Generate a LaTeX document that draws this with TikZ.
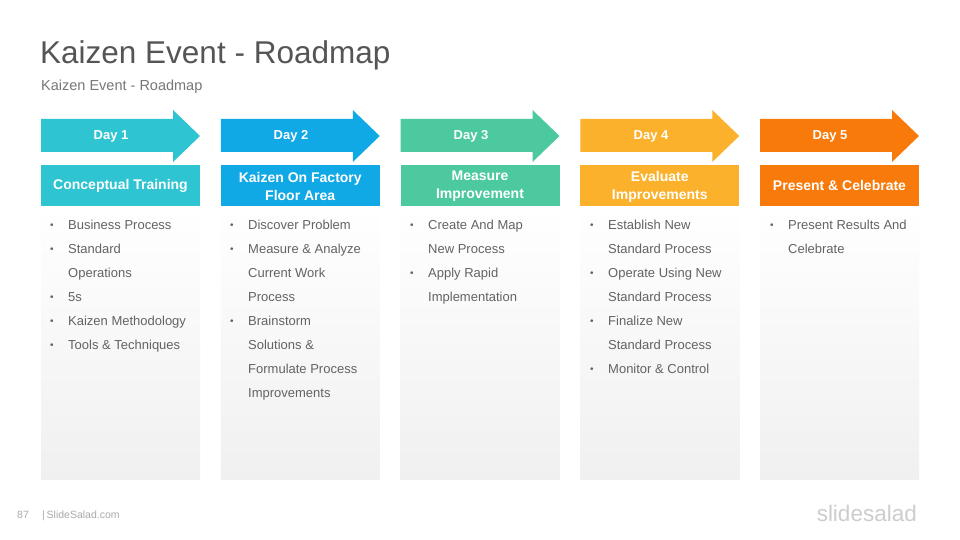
\documentclass[tikz,border=0pt]{standalone}
\usepackage{fontspec}
\setmainfont{Liberation Sans}
\definecolor{cA}{HTML}{2EC4D2}
\definecolor{cB}{HTML}{11A8E6}
\definecolor{cC}{HTML}{4DC9A0}
\definecolor{cD}{HTML}{FBB12B}
\definecolor{cE}{HTML}{F87A0B}
\definecolor{titlegray}{HTML}{555555}
\definecolor{subgray}{HTML}{777777}
\definecolor{bodygray}{HTML}{636363}
\definecolor{boxgray}{HTML}{F0F0F0}
\definecolor{footgray}{HTML}{AAAAAA}
\definecolor{logogray}{HTML}{CDCDCD}
\newcommand\bul{\makebox[18pt][l]{\raisebox{0.5pt}{\fontsize{10}{10}\selectfont\textbullet}}}
\newcommand\cnt{\hspace*{18pt}}
\tikzset{
  daytext/.style={text=white, font=\bfseries\fontsize{13}{15}\selectfont, inner sep=0},
  labelbox/.style={minimum width=159pt, minimum height=41pt, inner sep=0, text=white,
    align=center, font=\bfseries\fontsize{14}{18}\selectfont},
  twoline/.style={text depth=4pt},
  contentbox/.style={minimum width=159pt, minimum height=273pt, inner sep=0, anchor=north west,
    top color=white, bottom color=boxgray, draw=none},
  listtext/.style={anchor=north west, inner sep=0, align=left, text=bodygray,
    font=\fontsize{13}{24}\selectfont},
}
\newcommand\dayarrow[2]{%
  \fill[#2] (#1,119) -- ++(132,0) -- ++(0,-9) -- ++(27,26) -- ++(-27,26) -- ++(0,-10) -- ++(-132,0) -- cycle;}
\begin{document}
\begin{tikzpicture}[x=1pt,y=-1pt]
\useasboundingbox (0,0) rectangle (960,540);
\fill[white] (0,0) rectangle (960,540);

\node[anchor=base west, inner sep=0, text=titlegray, font=\fontsize{31.5}{36}\selectfont] (title) at (40,63.5) {Kaizen Event - Roadmap};
\node[anchor=base west, inner sep=0, text=subgray, font=\fontsize{14.5}{16}\selectfont] (subtitle) at (41,91) {Kaizen Event - Roadmap};

% Column 1
\dayarrow{41}{cA}
\node[daytext] (day1) at (111,136) {Day 1};
\node[labelbox, fill=cA] (lab1) at (120.5,185.5) {Conceptual Training};
\node[contentbox] (box1) at (41,206) {};
\node[listtext] (list1) at (50,219.5) {\bul Business Process\\ \bul Standard\\ \cnt Operations\\ \bul 5s\\ \bul Kaizen Methodology\\ \bul Tools \& Techniques};

% Column 2
\dayarrow{220.75}{cB}
\node[daytext] (day2) at (291,136) {Day 2};
\node[labelbox, fill=cB] (lab2) at (300.25,185.5) {};
\node[text=white, align=center, font=\bfseries\fontsize{14}{18}\selectfont, inner sep=0] (lab2t) at (300.25,186.5) {Kaizen On Factory\\Floor Area};
\node[contentbox] (box2) at (220.75,206) {};
\node[listtext] (list2) at (230,219.5) {\bul Discover Problem\\ \bul Measure \& Analyze\\ \cnt Current Work\\ \cnt Process\\ \bul Brainstorm\\ \cnt Solutions \&\\ \cnt Formulate Process\\ \cnt Improvements};

% Column 3
\dayarrow{400.5}{cC}
\node[daytext] (day3) at (471,136) {Day 3};
\node[labelbox, fill=cC] (lab3) at (480,185.5) {};
\node[text=white, align=center, font=\bfseries\fontsize{14}{18}\selectfont, inner sep=0] (lab3t) at (480,186.5) {Measure\\Improvement};
\node[contentbox] (box3) at (400.5,206) {};
\node[listtext] (list3) at (410,219.5) {\bul Create And Map\\ \cnt New Process\\ \bul Apply Rapid\\ \cnt Implementation};

% Column 4
\dayarrow{580.25}{cD}
\node[daytext] (day4) at (651,136) {Day 4};
\node[labelbox, fill=cD] (lab4) at (659.75,185.5) {};
\node[text=white, align=center, font=\bfseries\fontsize{14}{18}\selectfont, inner sep=0] (lab4t) at (659.75,186.5) {Evaluate\\Improvements};
\node[contentbox] (box4) at (580.25,206) {};
\node[listtext] (list4) at (590,219.5) {\bul Establish New\\ \cnt Standard Process\\ \bul Operate Using New\\ \cnt Standard Process\\ \bul Finalize New\\ \cnt Standard Process\\ \bul Monitor \& Control};

% Column 5
\dayarrow{760}{cE}
\node[daytext] (day5) at (830,136) {Day 5};
\node[labelbox, fill=cE] (lab5) at (839.5,185.5) {Present \& Celebrate};
\node[contentbox] (box5) at (760,206) {};
\node[listtext] (list5) at (770,219.5) {\bul Present Results And\\ \cnt Celebrate};

% Footer
\node[anchor=base west, inner sep=0, text=footgray, font=\fontsize{10.5}{12}\selectfont] (pagenum) at (17,518) {87};
\node[anchor=base west, inner sep=0, text=footgray, font=\fontsize{10.5}{12}\selectfont] (site) at (42,518) {|\,SlideSalad.com};
\node[anchor=base east, inner sep=0, text=logogray, font=\fontsize{22.5}{24}\selectfont] (logo) at (917,521) {slidesalad};
\end{tikzpicture}
\end{document}
